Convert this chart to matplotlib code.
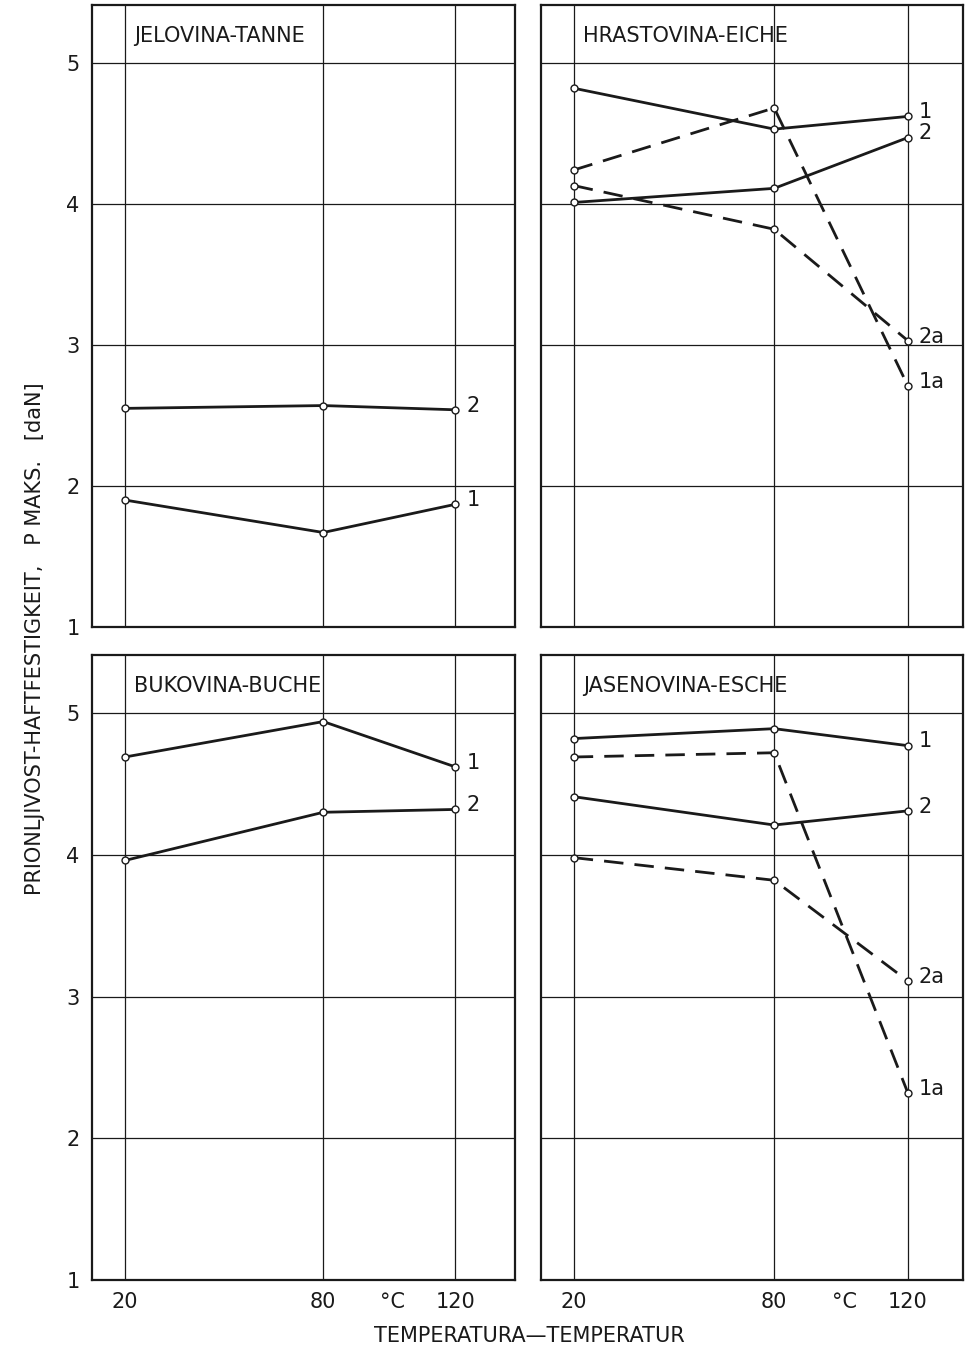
import matplotlib.pyplot as plt
import matplotlib.transforms as mtransforms

plt.rcParams['font.family'] = ['Liberation Sans Narrow', 'DejaVu Sans']

temps = [20, 80, 120]

titles = ['JELOVINA-TANNE', 'HRASTOVINA-EICHE', 'BUKOVINA-BUCHE', 'JASENOVINA-ESCHE']

# values per panel: (label, values, dashed)
tanne = [('2', [2.55, 2.57, 2.54], False),
         ('1', [1.90, 1.67, 1.87], False)]
eiche = [('1', [4.82, 4.53, 4.62], False),
         ('2', [4.01, 4.11, 4.47], False),
         ('1a', [4.24, 4.68, 2.71], True),
         ('2a', [4.13, 3.82, 3.03], True)]
buche = [('1', [4.69, 4.94, 4.62], False),
         ('2', [3.96, 4.30, 4.32], False)]
esche = [('1', [4.82, 4.89, 4.77], False),
         ('2', [4.41, 4.21, 4.31], False),
         ('1a', [4.69, 4.72, 2.32], True),
         ('2a', [3.98, 3.82, 3.11], True)]

panels = [tanne, eiche, buche, esche]

fig = plt.figure(figsize=(9.65, 13.51), dpi=100)
rects = [(0.0953, 0.5359, 0.4383, 0.4604),
         (0.5606, 0.5359, 0.4373, 0.4604),
         (0.0953, 0.0526, 0.4383, 0.4626),
         (0.5606, 0.0526, 0.4373, 0.4626)]
xlims = [(10, 138), (10.2, 136.5), (10, 138), (10.2, 136.5)]
ink = '#1a1a1a'
fs = 15

for k in range(4):
    ax = fig.add_axes(rects[k])
    ax.set_xlim(*xlims[k])
    ax.set_ylim(1, 5.41)
    for v in temps:
        ax.axvline(v, color=ink, lw=0.9, zorder=1)
    for h in [2, 3, 4, 5]:
        ax.axhline(h, color=ink, lw=0.9, zorder=1)
    for s in ax.spines.values():
        s.set_linewidth(1.6)
        s.set_color(ink)
    ax.tick_params(length=0, labelsize=fs, colors=ink, pad=9)
    ax.set_yticks([1, 2, 3, 4, 5])
    ax.set_xticks(temps)
    if k % 2 == 0:
        ax.set_yticklabels(['1', '2', '3', '4', '5'])
    else:
        ax.set_yticklabels([])
    if k >= 2:
        ax.set_xticklabels([str(t) for t in temps])
        tr = mtransforms.blended_transform_factory(ax.transData, ax.transAxes)
        ax.text(101, -0.019, '°C', transform=tr, ha='center', va='top',
                fontsize=fs, color=ink)
    else:
        ax.set_xticklabels([])
    ax.text(0.10, 0.95, titles[k], transform=ax.transAxes, fontsize=fs,
            color=ink, ha='left', va='center')
    for lab, vals, dashed in panels[k]:
        ax.plot(temps, vals, color=ink, lw=2.0,
                linestyle=(0, (7, 4)) if dashed else '-',
                marker='o', markersize=5, markerfacecolor='white',
                markeredgecolor=ink, markeredgewidth=1.0, zorder=3)
        ax.annotate(lab, (temps[-1], vals[-1]), xytext=(8, 3),
                    textcoords='offset points', fontsize=fs, color=ink,
                    ha='left', va='center')

fig.text(0.036, 0.527, 'PRIONLJIVOST-HAFTFESTIGKEIT,   P MAKS.   [daN]',
         rotation=90, ha='center', va='center', fontsize=fs, color=ink)
fig.text(0.549, 0.011, 'TEMPERATURA—TEMPERATUR', ha='center', va='center',
         fontsize=fs, color=ink)

fig.savefig('out.png', dpi=100, facecolor='white')
